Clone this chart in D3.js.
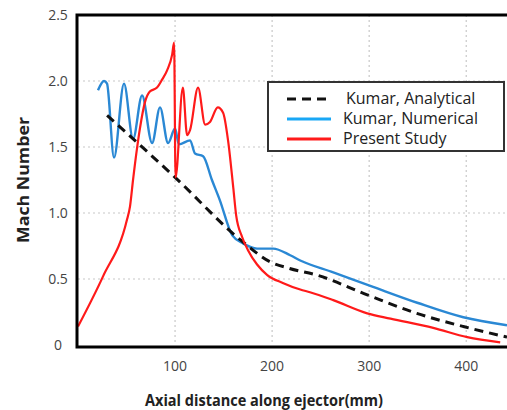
<!DOCTYPE html>
<html>
<head>
<meta charset="utf-8">
<script src="https://cdn.jsdelivr.net/npm/d3@7"></script>
<style>
  body { margin: 0; background: #fff; }
  svg { display: block; font-family: "Open Sans", sans-serif; }
</style>
</head>
<body>
<svg id="chart" width="507" height="410"></svg>
<script>
// Axial distance (mm) vs Mach number
const analytical = [
  [30, 1.74], [100, 1.27], [170, 0.78], [198, 0.63], [218, 0.58],
  [246, 0.53], [298, 0.38], [349, 0.24], [397, 0.14], [442, 0.06]
];

const numerical = [
  [20.6, 1.93], [26.8, 2.00], [29.9, 1.98], [37.1, 1.42], [47.4, 1.98],
  [56.7, 1.56], [66, 1.89], [76.3, 1.53], [84.5, 1.80], [92.8, 1.53],
  [100, 1.64], [104, 1.52], [115.5, 1.55], [120.6, 1.45], [128.9, 1.43],
  [138, 1.25], [146, 1.10], [159, 0.83], [170, 0.77], [184.5, 0.73],
  [201, 0.73], [218.6, 0.68], [229, 0.64], [263, 0.55], [304, 0.44],
  [349.5, 0.32], [397, 0.21], [442, 0.15]
];

const present = [
  [0, 0.14], [25.8, 0.52], [50.5, 0.95], [53.6, 1.05], [56.7, 1.25],
  [60.8, 1.49], [64, 1.65], [69, 1.84], [74, 1.92], [81.4, 1.95],
  [86.6, 2.01], [91.8, 2.08], [97, 2.20], [99, 2.29], [100.5, 1.27],
  [108, 1.95], [112.4, 1.59], [115.5, 1.63], [123.7, 1.95], [131, 1.67],
  [136, 1.69], [144, 1.80], [149.5, 1.76], [154.6, 1.55], [160, 1.19],
  [163, 0.98], [169, 0.82], [175, 0.72], [184.5, 0.61], [195, 0.53],
  [211, 0.47], [229, 0.42], [239, 0.40], [263, 0.34], [298, 0.24],
  [322, 0.20], [366, 0.13], [401, 0.06], [435, 0.02]
];

const xTicks = [100, 200, 300, 400];
const yTicks = [0, 0.5, 1.0, 1.5, 2.0, 2.5];
const yTickLabels = ["0", "0.5", "1.0", "1.5", "2.0", "2.5"];
const legendNames = ["Kumar, Analytical", "Kumar, Numerical", "Present Study"];

const svg = d3.select("#chart");

const x = d3.scaleLinear().domain([0, 442]).range([78, 507]);
const y = d3.scaleLinear().domain([0, 2.5]).range([345, 15]);

// dotted grid
svg.append("g")
  .selectAll("line")
  .data(xTicks)
  .join("line")
  .attr("x1", d => x(d)).attr("x2", d => x(d))
  .attr("y1", y(2.5)).attr("y2", y(0))
  .attr("stroke", "#c8c8c8")
  .attr("stroke-width", 1.2)
  .attr("stroke-dasharray", "2,3");

svg.append("g")
  .selectAll("line")
  .data(yTicks.filter(d => d > 0 && d < 2.5))
  .join("line")
  .attr("x1", x(0)).attr("x2", 507)
  .attr("y1", d => y(d)).attr("y2", d => y(d))
  .attr("stroke", "#c8c8c8")
  .attr("stroke-width", 1.2)
  .attr("stroke-dasharray", "2,3");

// tick labels
svg.append("g")
  .selectAll("text")
  .data(yTicks)
  .join("text")
  .attr("x", 58)
  .attr("y", d => y(d) + 5)
  .attr("text-anchor", "middle")
  .attr("font-size", 14)
  .attr("fill", "#444")
  .text((d, i) => yTickLabels[i]);

svg.append("g")
  .selectAll("text")
  .data(xTicks)
  .join("text")
  .attr("x", d => x(d))
  .attr("y", 371)
  .attr("text-anchor", "middle")
  .attr("font-size", 14)
  .attr("fill", "#444")
  .text(d => d);

// series
const line = d3.line()
  .x(d => x(d[0]))
  .y(d => y(d[1]))
  .curve(d3.curveMonotoneX);

svg.append("path")
  .datum(numerical)
  .attr("fill", "none")
  .attr("stroke", "#2a88d4")
  .attr("stroke-width", 2.4)
  .attr("d", line);

svg.append("path")
  .datum(analytical)
  .attr("fill", "none")
  .attr("stroke", "#111")
  .attr("stroke-width", 3)
  .attr("stroke-dasharray", "9,6")
  .attr("d", line);

svg.append("path")
  .datum(present)
  .attr("fill", "none")
  .attr("stroke", "#ff1a1a")
  .attr("stroke-width", 2.2)
  .attr("d", line);

// frame (left, top, bottom)
svg.append("path")
  .attr("d", `M507,${y(2.5)} H${x(0) - 1} V${y(0) + 2} H507`)
  .attr("fill", "none")
  .attr("stroke", "#000")
  .attr("stroke-width", 3);

// legend
const legend = svg.append("g");
legend.append("rect")
  .attr("x", 268).attr("y", 82)
  .attr("width", 236).attr("height", 69)
  .attr("fill", "#fff")
  .attr("stroke", "#333")
  .attr("stroke-width", 2);

const legendStyles = [
  { color: "#111", dash: "9,6", width: 3 },
  { color: "#19a7f5", dash: null, width: 3 },
  { color: "#ff1a1a", dash: null, width: 3 }
];

legendNames.forEach((name, i) => {
  const ly = 99 + i * 20;
  legend.append("line")
    .attr("x1", 287).attr("x2", 331)
    .attr("y1", ly).attr("y2", ly)
    .attr("stroke", legendStyles[i].color)
    .attr("stroke-width", legendStyles[i].width)
    .attr("stroke-dasharray", legendStyles[i].dash);
  legend.append("text")
    .attr("x", i === 0 ? 346 : 343)
    .attr("y", ly + 5)
    .attr("font-size", 16)
    .attr("fill", "#222")
    .text(name);
});

// axis titles
svg.append("text")
  .attr("x", 264)
  .attr("y", 406)
  .attr("text-anchor", "middle")
  .attr("font-size", 16)
  .attr("font-weight", "bold")
  .attr("fill", "#222")
  .attr("textLength", 238)
  .attr("lengthAdjust", "spacingAndGlyphs")
  .text("Axial distance along ejector(mm)");

svg.append("text")
  .attr("transform", "translate(29,180) rotate(-90)")
  .attr("text-anchor", "middle")
  .attr("font-size", 16)
  .attr("font-weight", "bold")
  .attr("fill", "#222")
  .attr("textLength", 126)
  .attr("lengthAdjust", "spacingAndGlyphs")
  .text("Mach Number");
</script>
</body>
</html>
